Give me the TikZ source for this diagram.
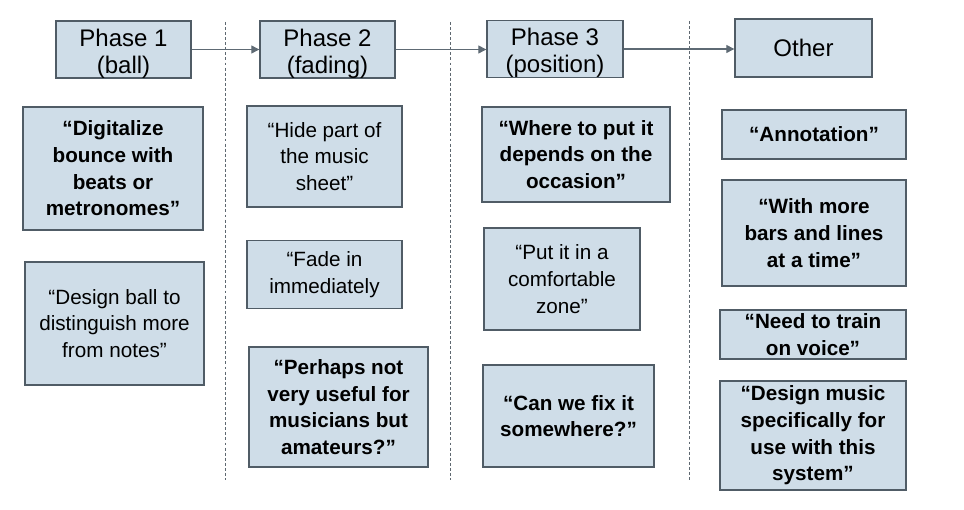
\documentclass[tikz,border=0pt]{standalone}
\usepackage{fontspec}
\setmainfont{Liberation Sans}
\usetikzlibrary{arrows.meta}
\definecolor{boxfill}{HTML}{CFDDE8}
\definecolor{boxline}{HTML}{505C66}
\definecolor{arrowc}{HTML}{5E6A74}
\definecolor{sepc}{HTML}{5E6870}
\newcommand{\hdrstrut}{\rule{0pt}{19pt}}
\tikzset{
  hdr/.style={draw=boxline, line width=1pt, fill=boxfill, align=center, inner sep=0pt,
    font=\fontsize{18}{20}\selectfont},
  qbox/.style={draw=boxline, line width=1pt, fill=boxfill, align=center, inner sep=0pt,
    font=\fontsize{15.5}{20}\selectfont},
  qbold/.style={qbox, font=\fontsize{15.5}{20}\selectfont\bfseries},
  flow/.style={draw=arrowc, line width=0.8pt, -{Triangle[length=6pt,width=6pt]}},
  sep/.style={draw=sepc, line width=0.6pt, dash pattern=on 2.2pt off 1.6pt}
}
\begin{document}
\begin{tikzpicture}[x=0.75pt, y=-0.75pt]
\useasboundingbox (0,0) rectangle (964,510);
% separators
\coordinate (s1t) at (225,22); \coordinate (s1b) at (225,480);
\coordinate (s2t) at (450,22); \coordinate (s2b) at (450,480);
\coordinate (s3t) at (689,21); \coordinate (s3b) at (689,480);
\draw[sep] (s1t) -- (s1b);
\draw[sep] (s2t) -- (s2b);
\draw[sep] (s3t) -- (s3b);
% headers
\node[hdr, minimum width=101.25pt, minimum height=41.25pt] (p1) at (123.5,49.5) {\hdrstrut Phase 1\\(ball)};
\node[hdr, minimum width=101.25pt, minimum height=41.25pt] (p2) at (327.5,49.5) {\hdrstrut Phase 2\\(fading)};
\node[hdr, minimum width=102pt, minimum height=42pt] (p3) at (555,49) {\hdrstrut Phase 3\\(position)};
\node[hdr, minimum width=102.75pt, minimum height=43.5pt] (ot) at (803.5,48) {Other};
\draw[flow] (p1.east) -- (p2.west);
\draw[flow] (p2.east) -- (p3.west |- p2.east);
\draw[flow] (p3.east) -- (ot.west |- p3.east);
% column 1
\node[qbold, minimum width=135pt, minimum height=92.25pt] (b1) at (113,168.5)
  {“Digitalize\\bounce with\\beats or\\metronomes”};
\node[qbox, minimum width=134.25pt, minimum height=92.25pt] (b2) at (114.5,323.5)
  {“Design ball to\\distinguish more\\from notes”};
% column 2
\node[qbox, minimum width=116.25pt, minimum height=75.75pt] (b3) at (324.5,156.5)
  {“Hide part of\\the music\\sheet”};
\node[qbox, minimum width=116.25pt, minimum height=51pt] (b4) at (324.5,274.7)
  {“Fade in\\immediately};
\node[qbold, minimum width=134.25pt, minimum height=90pt] (b5) at (338.5,407)
  {“Perhaps not\\very useful for\\musicians but\\amateurs?”};
% column 3
\node[qbold, minimum width=141pt, minimum height=71.25pt] (b6) at (576,154.5)
  {“Where to put it\\depends on the\\occasion”};
\node[qbox, minimum width=117pt, minimum height=76.5pt] (b7) at (562,279)
  {“Put it in a\\comfortable\\zone”};
\node[qbold, minimum width=128.25pt, minimum height=76.5pt] (b8) at (568.5,416)
  {“Can we fix it\\somewhere?”};
% column 4
\node[qbold, minimum width=138pt, minimum height=36.75pt] (b9) at (814,134.5)
  {“Annotation”};
\node[qbold, minimum width=138pt, minimum height=79.5pt] (b10) at (814,233)
  {“With more\\bars and lines\\at a time”};
\node[qbold, minimum width=139.5pt, minimum height=36.75pt] (b11) at (813,334.5)
  {“Need to train\\on voice”};
\node[qbold, minimum width=139.5pt, minimum height=81.75pt] (b12) at (813,435.5)
  {“Design music\\specifically for\\use with this\\system”};
\end{tikzpicture}
\end{document}
